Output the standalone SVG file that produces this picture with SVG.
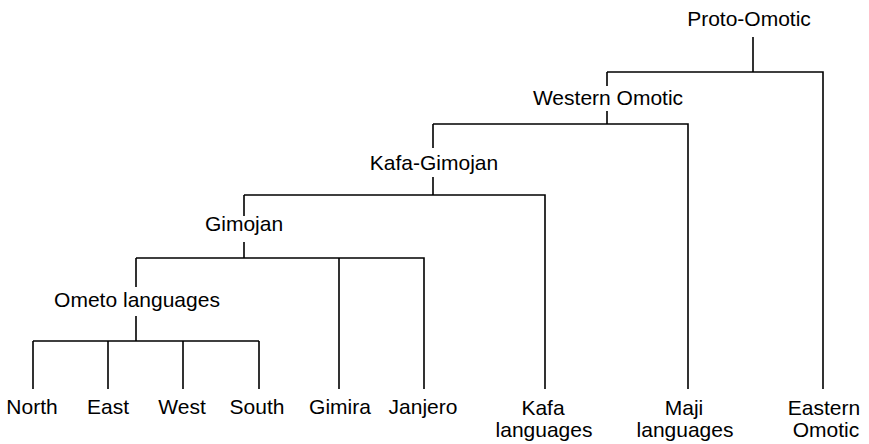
<svg xmlns="http://www.w3.org/2000/svg" width="869" height="444" viewBox="0 0 869 444">
<style>
text{font-family:"Liberation Sans",Arial,Helvetica,sans-serif;font-size:21px;fill:#000;text-anchor:middle}
.c path{fill:none;stroke:#000;stroke-width:1.6}
</style>
<rect width="869" height="444" fill="#fff"/>
<g class="c" id="connectors">
<path d="M753 37V72M607 72H823V389M607 72V86M607 111V124M433 124H688V389M433 124V148M433 177V195M244 195H545V389M244 195V216M244 242V258M136 258H424V389M339 258V389M136 258V287M136 316V341M33 341H259M33 341V389M108 341V389M183 341V389M259 341V389"/>
</g>
<g id="proto-omotic"><text x="749" y="26">Proto-Omotic</text></g>
<g id="western-omotic"><text x="608" y="105">Western Omotic</text></g>
<g id="kafa-gimojan"><text x="434" y="170">Kafa-Gimojan</text></g>
<g id="gimojan"><text x="244" y="231">Gimojan</text></g>
<g id="ometo"><text x="137" y="307">Ometo languages</text></g>
<g id="north"><text x="32" y="414">North</text></g>
<g id="east"><text x="108" y="414">East</text></g>
<g id="west"><text x="182" y="414">West</text></g>
<g id="south"><text x="257" y="414">South</text></g>
<g id="gimira"><text x="340" y="414">Gimira</text></g>
<g id="janjero"><text x="423" y="414">Janjero</text></g>
<g id="kafa"><text x="543" y="415">Kafa</text><text x="544" y="437">languages</text></g>
<g id="maji"><text x="684" y="415">Maji</text><text x="685" y="437">languages</text></g>
<g id="eastern-omotic"><text x="824" y="415">Eastern</text><text x="826" y="437">Omotic</text></g>
</svg>
